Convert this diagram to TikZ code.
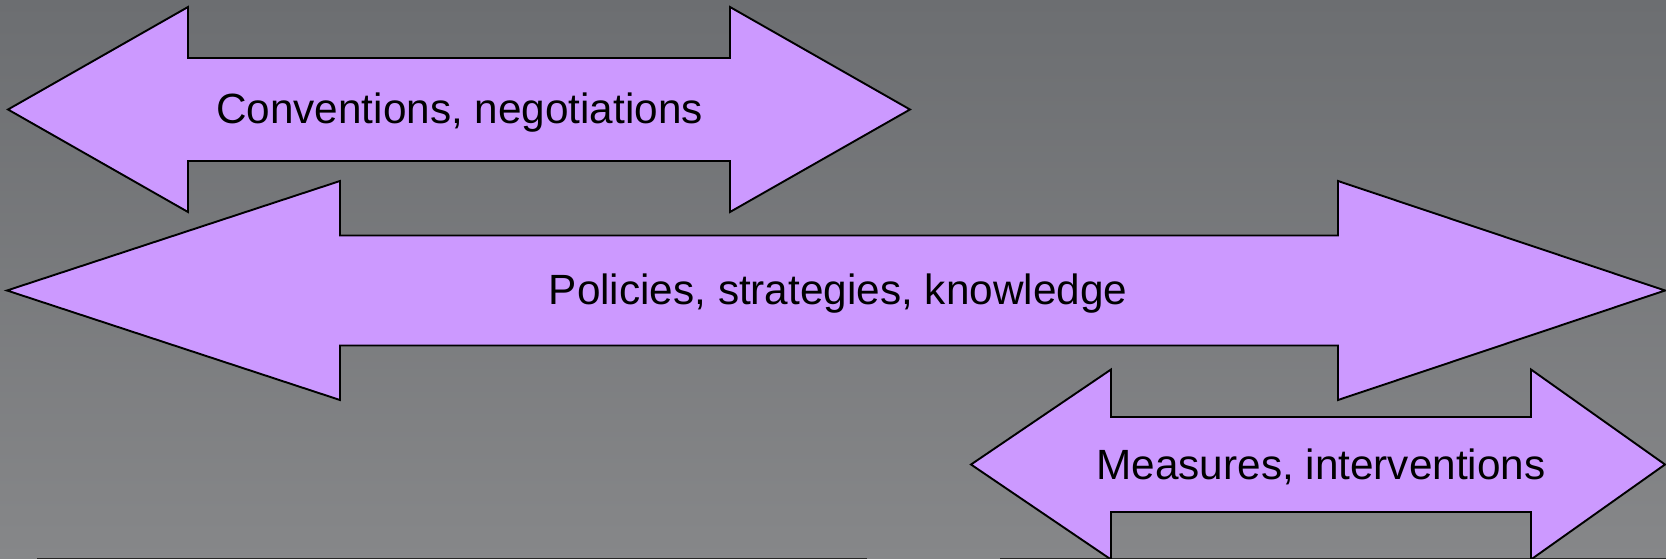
\documentclass[tikz,border=0pt]{standalone}
\usepackage{fontspec}
\setmainfont{Liberation Sans}
\definecolor{bgtop}{RGB}{108,110,113}
\definecolor{bgbottom}{RGB}{134,135,137}
\definecolor{lilac}{RGB}{204,153,255}
\tikzset{
  arrowshape/.style={fill=lilac, draw=black, line width=1.9pt, line join=miter},
  arrowlabel/.style={anchor=base, inner sep=0pt, text=black,
    font=\fontsize{42.3}{50}\selectfont},
  edgeline/.style={draw=black!85, line width=1.2pt}
}
% double arrow: left tip x, left head base x, right head base x, right tip x,
% centre y, head half height, shaft half height
\newcommand{\dblarrow}[7]{%
  \path[arrowshape] (#1,#5) -- (#2,#5-#6) -- (#2,#5-#7) -- (#3,#5-#7)
    -- (#3,#5-#6) -- (#4,#5) -- (#3,#5+#6) -- (#3,#5+#7) -- (#2,#5+#7)
    -- (#2,#5+#6) -- cycle;}
\begin{document}
\begin{tikzpicture}[x=1pt, y=-1pt]
  \useasboundingbox (0,0) rectangle (1666,559);
  \shade[top color=bgtop, bottom color=bgbottom] (0,0) rectangle (1666,559);
  % thin edge along the foot of the page
  \draw[edgeline] (37,558.6) -- (867,558.6);
  \draw[edgeline] (1000,558.6) -- (1666,558.6);
  % the three double arrows
  \dblarrow{8}{188}{730}{910}{109.5}{102.5}{51.5}
  \dblarrow{7}{340}{1338}{1665}{290.5}{109.5}{55}
  \dblarrow{971}{1111}{1531}{1665}{464.5}{95}{47.5}
  % labels
  \node[arrowlabel] (conv) at (459.5,123.5) {Conventions, negotiations};
  \node[arrowlabel] (pol) at (838,304.5) {Policies, strategies, knowledge};
  \node[arrowlabel] (meas) at (1321,479) {Measures, interventions};
\end{tikzpicture}
\end{document}
